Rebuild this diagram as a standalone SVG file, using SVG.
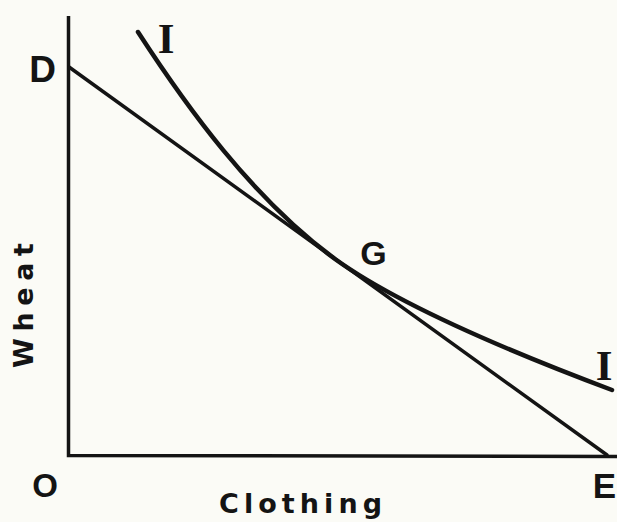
<svg xmlns="http://www.w3.org/2000/svg" width="617" height="522" viewBox="0 0 617 522">
  <style>
    .ax { fill: none; stroke: #141414; stroke-width: 3.5; stroke-linecap: butt; }
    .bl { fill: none; stroke: #141414; stroke-width: 3.5; stroke-linecap: round; }
    .ic { fill: none; stroke: #141414; stroke-width: 4.5; stroke-linecap: round; }
    .lbl { font-family: "Liberation Sans", Arial, sans-serif; font-weight: bold; fill: #141414; text-anchor: middle; }
    .word { font-family: "DejaVu Sans", "Liberation Sans", sans-serif; font-weight: bold; fill: #141414; font-size: 27px; }
    .ser { font-family: "Liberation Serif", "Times New Roman", serif; font-weight: bold; fill: #141414; font-size: 43px; text-anchor: middle; }
  </style>
  <rect x="0" y="0" width="617" height="522" fill="#fbfbf6"/>
  <g id="connectors">
    <path id="axes" class="ax" d="M68.5,16 V455.5 L617,456.5"/>
    <path id="budget-line-DE" class="bl" d="M69,67 L607,455"/>
    <path id="indifference-curve-II" class="ic" d="M138,32 C186,106 252,198 335,259 C405,309.5 532,360 612,390"/>
  </g>
  <g id="node-D"><text class="lbl" x="42.5" y="82" font-size="37">D</text></g>
  <g id="node-O"><text class="lbl" x="45" y="497" font-size="33">O</text></g>
  <g id="node-E"><text class="lbl" x="616" y="498" font-size="35" style="text-anchor:end">E</text></g>
  <g id="node-G"><text class="lbl" x="373.5" y="265" font-size="34">G</text></g>
  <g id="node-I-top"><text class="ser" x="166" y="53">I</text></g>
  <g id="node-I-right"><text class="ser" x="604" y="380">I</text></g>
  <g id="label-clothing"><text class="word" x="219" y="513" textLength="163" lengthAdjust="spacing">Clothing</text></g>
  <g id="label-wheat"><text class="word" transform="translate(33,368) rotate(-90)" x="0" y="0" textLength="125" lengthAdjust="spacing">Wheat</text></g>
</svg>
